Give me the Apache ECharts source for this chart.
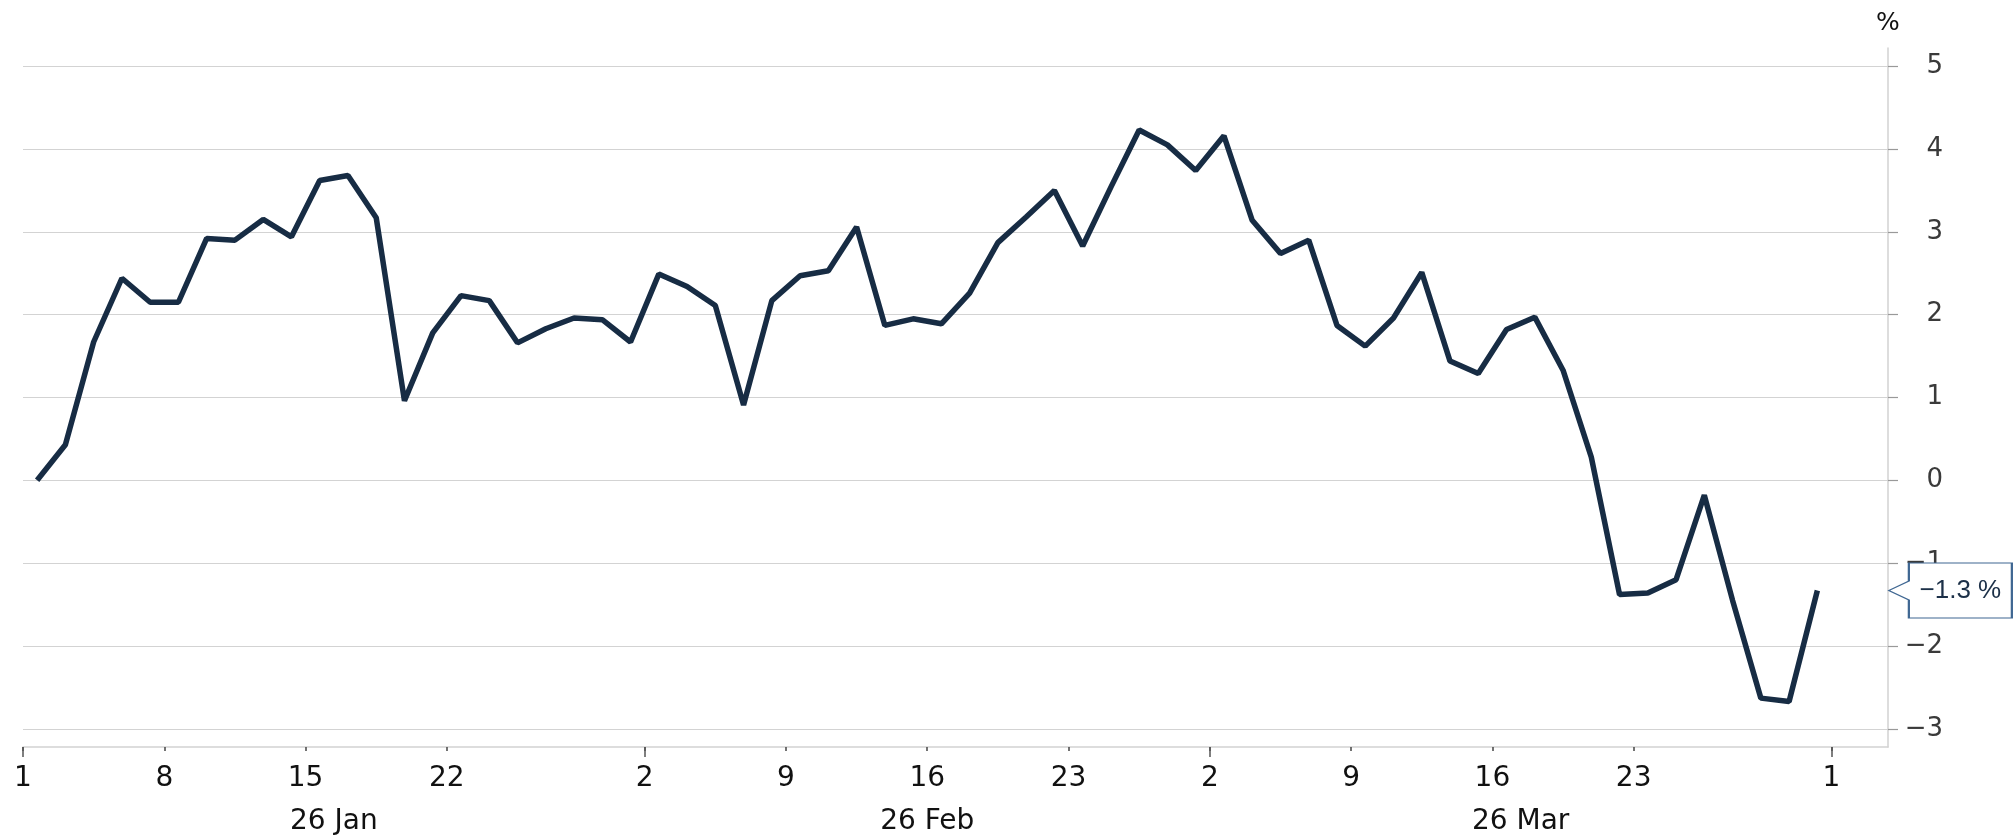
<!DOCTYPE html>
<html>
<head>
<meta charset="utf-8">
<script src="https://cdn.jsdelivr.net/npm/echarts@6/dist/echarts.min.js"></script>
<style>
  html, body { margin: 0; padding: 0; background: #fff; }
  #chart { width: 2013px; height: 836px; }
</style>
</head>
<body>
<div id="chart"></div>
<script>
// Trading days (weekdays) on the horizontal axis, 2026
const dates = [
  '2026-01-01','2026-01-02','2026-01-05','2026-01-06','2026-01-07','2026-01-08','2026-01-09',
  '2026-01-12','2026-01-13','2026-01-14','2026-01-15','2026-01-16','2026-01-19','2026-01-20',
  '2026-01-21','2026-01-22','2026-01-23','2026-01-26','2026-01-27','2026-01-28','2026-01-29',
  '2026-01-30',
  '2026-02-02','2026-02-03','2026-02-04','2026-02-05','2026-02-06','2026-02-09','2026-02-10',
  '2026-02-11','2026-02-12','2026-02-13','2026-02-16','2026-02-17','2026-02-18','2026-02-19',
  '2026-02-20','2026-02-23','2026-02-24','2026-02-25','2026-02-26','2026-02-27',
  '2026-03-02','2026-03-03','2026-03-04','2026-03-05','2026-03-06','2026-03-09','2026-03-10',
  '2026-03-11','2026-03-12','2026-03-13','2026-03-16','2026-03-17','2026-03-18','2026-03-19',
  '2026-03-20','2026-03-23','2026-03-24','2026-03-25','2026-03-26','2026-03-27','2026-03-30',
  '2026-03-31',
  '2026-04-01','2026-04-02'
];

// Cumulative change, %
const values = [
  0.00, 0.43, 1.67, 2.44, 2.15, 2.15, 2.92, 2.90, 3.15, 2.94,
  3.62, 3.68, 3.17, 0.96, 1.78, 2.23, 2.17, 1.66, 1.83, 1.96,
  1.94, 1.67, 2.49, 2.34, 2.11, 0.91, 2.17, 2.47, 2.53, 3.06,
  1.87, 1.95, 1.89, 2.26, 2.87, 3.18, 3.50, 2.83, 3.54, 4.23,
  4.05, 3.74, 4.16, 3.14, 2.74, 2.90, 1.87, 1.62, 1.96, 2.51,
  1.44, 1.29, 1.82, 1.97, 1.33, 0.28, -1.38, -1.36, -1.20, -0.18,
  -1.45, -2.63, -2.67, -1.33
];

// Day tick labels
const tickDates  = ['2026-01-01','2026-01-08','2026-01-15','2026-01-22','2026-02-02','2026-02-09',
                    '2026-02-16','2026-02-23','2026-03-02','2026-03-09','2026-03-16','2026-03-23','2026-04-01'];
const tickLabels = ['1','8','15','22','2','9','16','23','2','9','16','23','1'];

// Month ticks and labels
const monthStarts = ['2026-01-01','2026-02-02','2026-03-02','2026-04-01'];
const monthLabels = ['26 Jan','26 Feb','26 Mar'];

// Value axis ticks
const yTicks = [-3, -2, -1, 0, 1, 2, 3, 4, 5];

const minus = '\u2212';
const fmtNum = v => (v < 0 ? minus + Math.abs(v) : String(v));

const tickIdx = tickDates.map(d => dates.indexOf(d));
const tickLabelMap = {};
tickIdx.forEach((ix, k) => { tickLabelMap[ix] = tickLabels[k]; });

const monthIdx = monthStarts.map(d => dates.indexOf(d));
const monthMid = monthLabels.map((_, k) => (monthIdx[k] + monthIdx[k + 1]) / 2);
const monthLabelMap = {};
monthMid.forEach((ix, k) => { monthLabelMap[ix] = monthLabels[k]; });

const lastIdx = values.length - 1;
const lastVal = values[lastIdx];

const FONT = 'DejaVu Sans';

const chart = echarts.init(document.getElementById('chart'), null, { renderer: 'canvas' });

chart.setOption({
  animation: false,
  backgroundColor: '#ffffff',
  grid: { left: 23, right: 125, top: 48, bottom: 89, outerBoundsMode: 'none', containLabel: false },
  xAxis: [
    {
      type: 'category',
      position: 'bottom',
      offset: 0,
      data: dates,
      boundaryGap: true,
      axisLine: { show: true, onZero: false, lineStyle: { color: '#d2d2d2', width: 1.5 } },
      axisTick: { show: false },
      axisLabel: { show: false },
      splitLine: { show: false }
    },
    {
      type: 'value',
      position: 'bottom',
      offset: 0,
      min: 0,
      max: dates.length,
      axisLine: { show: false, onZero: false },
      axisTick: { show: true, customValues: tickIdx, length: 4, lineStyle: { color: '#444', width: 1.5 } },
      axisLabel: {
        show: true, customValues: tickIdx,
        formatter: v => tickLabelMap[v] || '',
        fontFamily: FONT, fontSize: 28, color: '#111', margin: 18
      },
      splitLine: { show: false }
    },
    {
      type: 'value',
      position: 'bottom',
      offset: 0,
      min: 0,
      max: dates.length,
      axisLine: { show: false, onZero: false },
      axisTick: { show: true, customValues: monthIdx, length: 10, lineStyle: { color: '#555', width: 1.5 } },
      axisLabel: {
        show: true, customValues: monthMid,
        formatter: v => monthLabelMap[v] || '',
        fontFamily: FONT, fontSize: 28, color: '#111', margin: 61
      },
      splitLine: { show: false }
    }
  ],
  yAxis: {
    type: 'value',
    position: 'right',
    min: -3.22,
    max: 5.22,
    name: '%',
    nameLocation: 'end',
    nameGap: 12,
    nameTextStyle: { fontFamily: FONT, fontSize: 25, color: '#111', align: 'center' },
    axisLine: { show: true, onZero: false, lineStyle: { color: '#d2d2d2', width: 1.5 } },
    axisTick: { show: true, customValues: yTicks, length: 10, lineStyle: { color: '#999', width: 1.2 } },
    axisLabel: {
      show: true, customValues: yTicks,
      formatter: v => fmtNum(v),
      align: 'right', margin: 55,
      fontFamily: FONT, fontSize: 26, color: '#3a3a3a'
    },
    splitLine: { show: true, lineStyle: { color: '#d3d3d3', width: 1.2 } }
  },
  series: [{
    type: 'line',
    xAxisIndex: 0,
    yAxisIndex: 0,
    data: values,
    showSymbol: false,
    symbol: 'none',
    clip: false,
    lineStyle: { color: '#172c44', width: 5.5 },
    emphasis: { disabled: true },
    silent: true,
    markPoint: {
      silent: true,
      symbol: 'path://M0,27.5 L20,18 L20,0 L123,0 L123,55 L20,55 L20,37 Z',
      symbolSize: [123, 55],
      symbolKeepAspect: false,
      symbolOffset: [133, 0],
      itemStyle: { color: '#ffffff', borderColor: '#3f6792', borderWidth: 1.5 },
      label: {
        show: true,
        position: 'inside',
        offset: [10, 0],
        formatter: p => fmtNum(Number(p.value).toFixed(1)) + ' %',
        fontFamily: 'Liberation Sans', fontSize: 26, color: '#1c3048'
      },
      data: [{ coord: [dates[lastIdx], lastVal], value: lastVal }]
    }
  }]
});
</script>
</body>
</html>
